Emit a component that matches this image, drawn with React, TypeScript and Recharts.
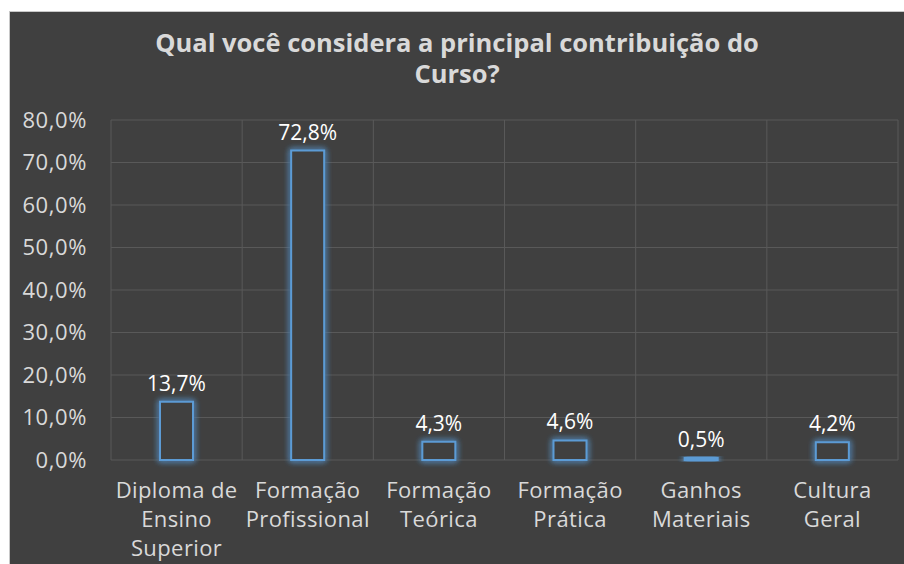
import { Bar, BarChart, CartesianGrid, LabelList, XAxis, YAxis } from 'recharts';

const CATEGORIES = [
  'Diploma de\nEnsino\nSuperior',
  'Formação\nProfissional',
  'Formação\nTeórica',
  'Formação\nPrática',
  'Ganhos\nMateriais',
  'Cultura\nGeral'
];

const SHARES = [13.7, 72.8, 4.3, 4.6, 0.5, 4.2];

const Y_TICKS = [0, 10, 20, 30, 40, 50, 60, 70, 80];

const TITLE_LINES = ['Qual você considera a principal contribuição do', 'Curso?'];

const data = CATEGORIES.map((name, i) => ({ name, share: SHARES[i] }));

const FONT = '"Open Sans", "Noto Sans", sans-serif';
const BG = '#404040';
const GRID = '#595959';
const TEXT = '#d9d9d9';

function pct(v: number | string) {
  return `${Number(v).toFixed(1).replace('.', ',')}%`;
}

function CategoryTick({ x, y, payload }: any) {
  const lines = String(payload.value).split('\n');
  return (
    <text x={x} y={y} textAnchor="middle" fill={TEXT} fontSize={22} fontFamily={FONT} letterSpacing={0.4}>
      {lines.map((line, i) => (
        <tspan key={line} x={x} y={y + 30 + i * 29}>
          {line}
        </tspan>
      ))}
    </text>
  );
}

// vertical grid lines sit on the category boundaries, not on the ticks
function categoryBounds({ offset }: any) {
  const step = offset.width / CATEGORIES.length;
  return CATEGORIES.map((_, i) => offset.left + i * step).concat(offset.left + offset.width);
}

export default function App() {
  return (
    <>
      <style>{'html,body{margin:0;overflow:hidden;background:#fff}'}</style>
      <div
        style={{
          position: 'absolute',
          top: 11,
          left: 9,
          width: 1000,
          height: 600,
          background: BG,
          borderTop: '1px solid #c8c8c8',
          borderLeft: '1px solid #c8c8c8'
        }}
      >
        <svg width={0} height={0} style={{ position: 'absolute' }}>
          <defs>
            <filter id="barGlow" x="-50%" y="-50%" width="200%" height="200%">
              <feGaussianBlur in="SourceGraphic" stdDeviation="3" result="blur" />
              <feMerge>
                <feMergeNode in="blur" />
                <feMergeNode in="blur" />
                <feMergeNode in="SourceGraphic" />
              </feMerge>
            </filter>
          </defs>
        </svg>
        {TITLE_LINES.map((l, i) => (
          <div
            key={l}
            style={{
              position: 'absolute',
              top: 15 + i * 31,
              left: 0,
              width: 894,
              textAlign: 'center',
              color: TEXT,
              fontFamily: FONT,
              fontWeight: 700,
              fontSize: 25.5,
              lineHeight: '31px'
            }}
          >
            {l}
          </div>
        ))}
        <BarChart width={894} height={552} data={data} margin={{ top: 108, right: 6, bottom: 0, left: 0 }}>
          <CartesianGrid stroke={GRID} verticalCoordinatesGenerator={categoryBounds} />
          <XAxis
            dataKey="name"
            axisLine={false}
            tickLine={false}
            height={104}
            interval={0}
            tick={<CategoryTick />}
          />
          <YAxis
            domain={[0, 80]}
            ticks={Y_TICKS}
            width={101}
            axisLine={false}
            tickLine={false}
            tickSize={0}
            tickMargin={24}
            tickFormatter={pct}
            tick={{ fill: TEXT, fontSize: 22, fontFamily: FONT, letterSpacing: 0.6 }}
          />
          <Bar
            dataKey="share"
            barSize={33}
            fill={BG}
            stroke="#5b9bd5"
            strokeWidth={2}
            filter="url(#barGlow)"
            isAnimationActive={false}
          >
            <LabelList
              dataKey="share"
              position="top"
              offset={11}
              formatter={pct}
              fill="#ffffff"
              fontSize={21}
              fontFamily={FONT}
            />
          </Bar>
        </BarChart>
      </div>
    </>
  );
}
